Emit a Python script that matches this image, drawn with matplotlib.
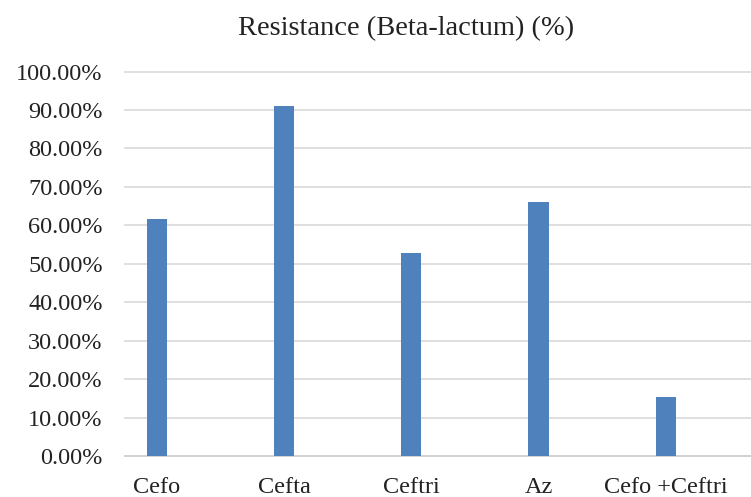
import matplotlib
matplotlib.use("Agg")
import matplotlib.pyplot as plt
from matplotlib.ticker import FuncFormatter

categories = ["Cefo", "Cefta", "Ceftri", "Az", "Cefo +Ceftri"]
values = [0.616, 0.910, 0.527, 0.661, 0.154]
yticks = [i / 10 for i in range(11)]

plt.rcParams['font.family'] = ['Liberation Serif', 'DejaVu Serif']

fig = plt.figure(figsize=(7.51, 4.97), dpi=100)
ax = fig.add_axes([125 / 751, 1 - 456 / 497, 1 - 125 / 751, (456 - 71.5) / 497])

x = list(range(len(categories)))
ax.bar(x, values, width=0.16, color="#4F81BD", zorder=3)

ax.set_xlim(-0.25, 4.67)
ax.set_ylim(0, 1.0)
ax.set_yticks(yticks)
ax.yaxis.set_major_formatter(FuncFormatter(lambda v, p: f"{v*100:.2f}%"))
ax.set_xticks(x)
ax.set_xticklabels(categories)

ax.grid(axis="y", color="#D9D9D9", linewidth=1.2, zorder=0)
for s in ["top", "right", "left"]:
    ax.spines[s].set_visible(False)
ax.spines["bottom"].set_color("#D0D0D0")
ax.spines["bottom"].set_linewidth(1.2)
ax.tick_params(axis="both", length=0, labelsize=17.5, colors="#222222")
ax.tick_params(axis="y", pad=16)
ax.tick_params(axis="x", pad=15)
for gl in ax.yaxis.get_gridlines():
    gl.set_clip_on(False)

fig.text(406 / 751, 1 - 29 / 497, "Resistance (Beta-lactum) (%)", ha="center", va="center",
         fontsize=20.5, color="#222222")

fig.savefig("out.png", dpi=100)
